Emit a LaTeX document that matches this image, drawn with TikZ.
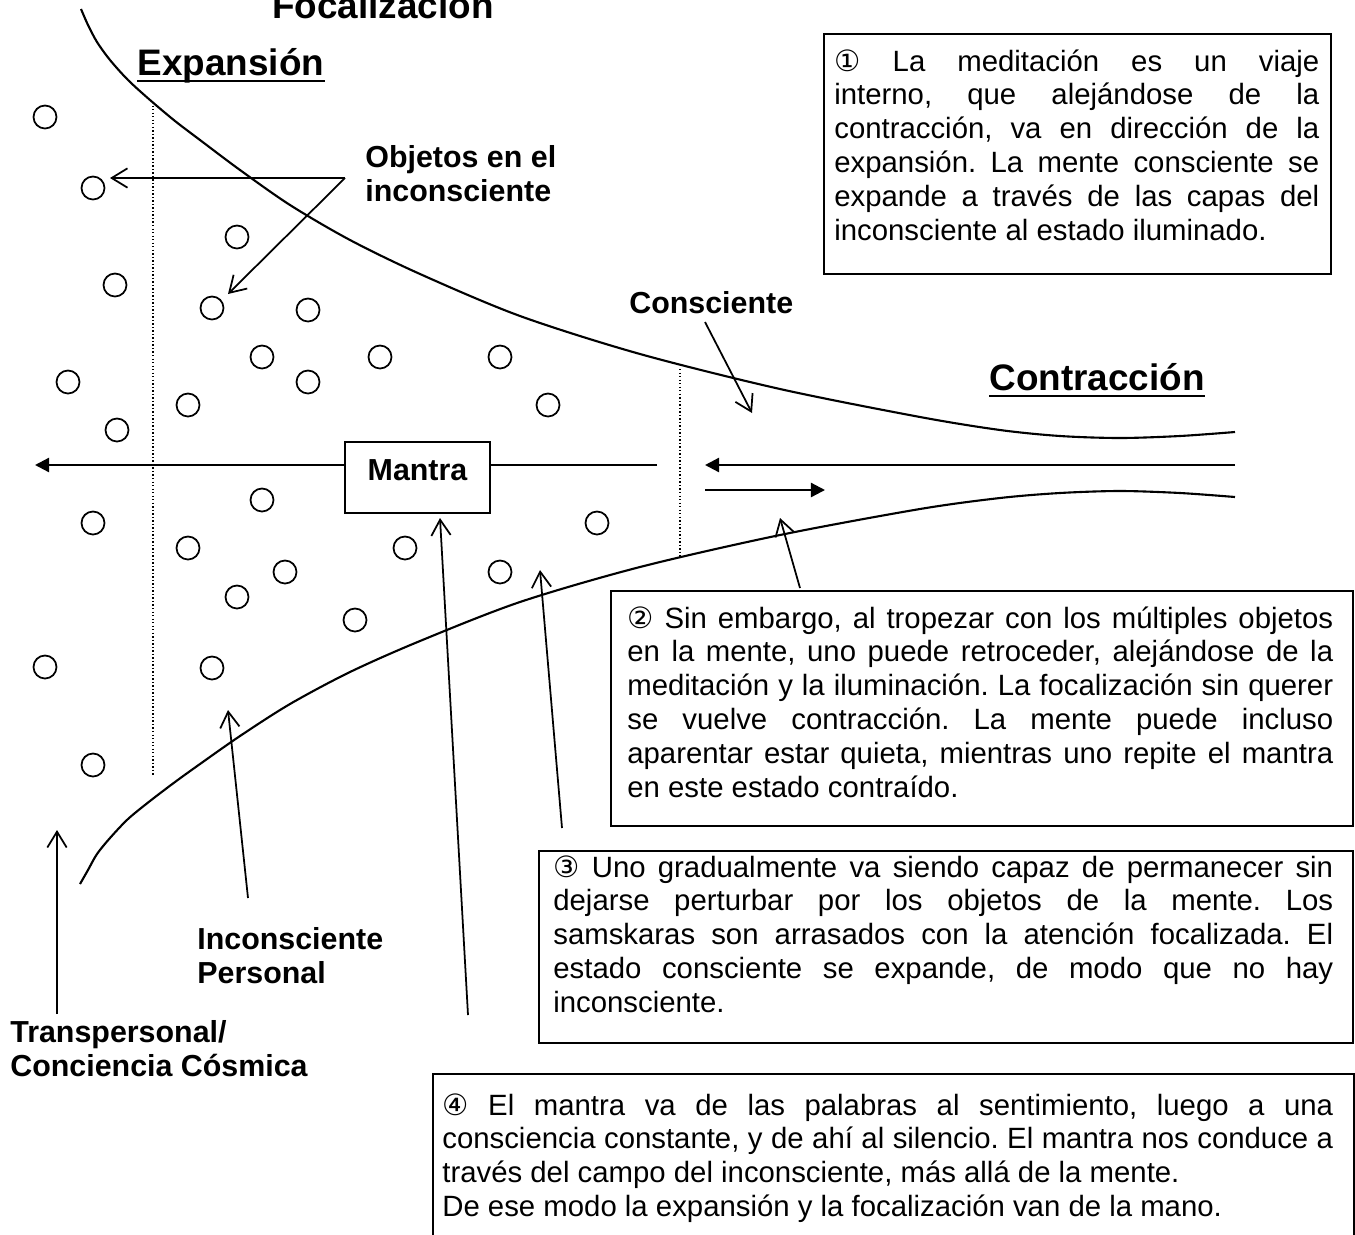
\documentclass[tikz,border=0pt]{standalone}
\usepackage{fontspec}
\setmainfont{Liberation Sans}
\newfontfamily\symf{DejaVu Sans}
\usetikzlibrary{arrows.meta}
\frenchspacing
\newcommand\bodyfont{\fontsize{16.7pt}{19.3pt}\selectfont\frenchspacing}
\newcommand\lblfont{\fontsize{17.3pt}{19.5pt}\selectfont\bfseries}
\newcommand\headfont{\fontsize{21pt}{25pt}\selectfont\bfseries}
\newcommand\twolines[2]{\vtop{\hbox{#1}\hbox{#2}}}
\tikzset{
  lbl/.style={font=\lblfont, inner sep=0pt, anchor=base west},
  head/.style={font=\headfont, inner sep=0pt, anchor=base},
  uline/.style={line width=1.6pt},
  boxframe/.style={draw, line width=1.2pt, inner sep=0pt, anchor=north west},
  boxtext/.style={font=\bodyfont, align=justify, inner sep=0pt, anchor=base west},
  bound/.style={line width=1.2pt},
  ptr/.style={line width=1pt, -{Straight Barb[length=9pt,width=11pt]}},
  bigarr/.style={line width=1.3pt, -{Triangle[length=8pt,width=8pt]}},
  thickline/.style={line width=1.3pt},
  obj/.style={circle, draw, line width=1pt, minimum size=0.46cm, inner sep=0pt},
  divider/.style={line width=0.8pt, dash pattern=on 0.8pt off 1.2pt},
  mantrabox/.style={draw, line width=1.2pt, minimum width=2.9cm, minimum height=1.42cm, inner sep=0pt, font=\lblfont}
}
\begin{document}
\begin{tikzpicture}[x=0.02cm, y=-0.02cm]
\useasboundingbox (0,0) rectangle (1355,1234);

% boundary curves
\draw[bound] plot[smooth, tension=0.5] coordinates {(81,9) (88,25) (97,42) (110,60) (128,80) (150,100) (175,121) (200,140) (240,170) (290,205) (350,240) (420,274) (520,316) (640,354) (780,389) (920,417) (1000,430) (1060,436) (1120,438) (1180,436) (1235,432)};
\draw[bound] plot[smooth, tension=0.5] coordinates {(80,884) (88,870) (97,854) (110,838) (128,819) (150,801) (175,782) (200,764) (240,736) (290,704) (350,672) (420,641) (520,602) (640,567) (780,535) (920,509) (1000,498) (1060,493) (1120,491) (1180,493) (1235,497)};

% dotted dividers
\draw[divider] (153,102) -- (153,775);
\draw[divider] (680,369) -- (680,557);

% objects in the unconscious
\foreach \p [count=\i] in {(45,117),(93,188),(237,237),(115,285),(212,308),(308,310),(262,357),(380,357),(500,357),(68,382),(308,382),(188,405),(548,405),(117,430),(262,500),(93,523),(188,548),(597,523),(405,548),(500,572),(285,572),(237,597),(355,620),(45,667),(212,668),(93,765)}
  \node[obj] (o\i) at \p {};

% headings
\node[head] (foc) at (383,18) {Focalización};
\node[head] (exp) at (231,75) {Expansión};
\draw[uline] ([yshift=-0.12cm]exp.base west) -- ([yshift=-0.12cm]exp.base east);
\node[head] (con) at (1097,390) {Contracción};
\draw[uline] ([yshift=-0.12cm]con.base west) -- ([yshift=-0.12cm]con.base east);

% mantra and the central arrows
\node[mantrabox] (mantra) at (417.5,477.5) {\raisebox{4pt}[\height][\depth]{Mantra}};
\coordinate (leftend) at (35,465);
\coordinate (rightend) at (657,465);
\draw[bigarr] (mantra.west |- leftend) -- (leftend);
\draw[thickline] (rightend) -- (mantra.east |- rightend);
\coordinate (r1s) at (1235,465);
\coordinate (r1e) at (705,465);
\draw[bigarr] (r1s) -- (r1e);
\coordinate (r2s) at (705,490);
\coordinate (r2e) at (825,490);
\draw[bigarr] (r2s) -- (r2e);

% labels
\node[lbl] (objlbl) at (365,167) {\twolines{Objetos en el}{inconsciente}};
\node[lbl] (conslbl) at (629,313) {Consciente};
\node[lbl] (inclbl) at (197,949) {\twolines{Inconsciente}{Personal}};
\node[lbl] (translbl) at (10,1042) {\twolines{Transpersonal/}{Conciencia Cósmica}};

% pointers
\coordinate (objs) at (345,178);
\coordinate (objt1) at (110,178);
\coordinate (objt2) at (228,294);
\draw[ptr] (objs) -- (objt1);
\draw[ptr] (objs) -- (objt2);
\coordinate (conss) at (705,322);
\coordinate (const) at (752,413);
\draw[ptr] (conss) -- (const);
\coordinate (incs) at (248,898);
\coordinate (inct) at (228,710);
\draw[ptr] (incs) -- (inct);
\coordinate (trs) at (57,1014);
\coordinate (trt) at (57,830);
\draw[ptr] (trs) -- (trt);

% text boxes
\node[boxframe, minimum width=10.14cm, minimum height=4.8cm] (b1) at (823,33) {};
\node[boxtext, text width=9.7cm] (b1t) at (834,71) {{\symf ①} La meditación es un viaje\linebreak interno, que alejándose de la\linebreak contracción, va en dirección de la\linebreak expansión. La mente consciente se\linebreak expande a través de las capas del\linebreak inconsciente al estado iluminado.};

\node[boxframe, minimum width=14.84cm, minimum height=4.7cm] (b2) at (610,590) {};
\node[boxtext, text width=14.12cm] (b2t) at (627,628) {{\symf ②} Sin embargo, al tropezar con los múltiples objetos\linebreak en la mente, uno puede retroceder, alejándose de la\linebreak meditación y la iluminación. La focalización sin querer\linebreak se vuelve contracción. La mente puede incluso\linebreak aparentar estar quieta, mientras uno repite el mantra\linebreak en este estado contraído.};

\node[boxframe, minimum width=16.28cm, minimum height=3.84cm] (b3) at (538,850) {};
\node[boxtext, text width=15.6cm] (b3t) at (553,877) {{\symf ③} Uno gradualmente va siendo capaz de permanecer sin\linebreak dejarse perturbar por los objetos de la mente. Los\linebreak samskaras son arrasados con la atención focalizada. El\linebreak estado consciente se expande, de modo que no hay\linebreak inconsciente.};

\node[boxframe, minimum width=18.42cm, minimum height=5cm] (b4) at (432,1073) {};
\node[boxtext, text width=17.82cm] (b4t) at (442,1115) {{\symf ④} El mantra va de las palabras al sentimiento, luego a una\linebreak consciencia constante, y de ahí al silencio. El mantra nos conduce a\linebreak través del campo del inconsciente, más allá de la mente.\newline De ese modo la expansión y la focalización van de la mano.};

\coordinate (p2s) at (800,588);
\coordinate (p2t) at (780,518);
\draw[ptr] (p2s) -- (p2t);
\coordinate (p3s) at (562,828);
\coordinate (p3t) at (540,570);
\draw[ptr] (p3s) -- (p3t);
\coordinate (p4s) at (468,1015);
\coordinate (p4t) at (440,518);
\draw[ptr] (p4s) -- (p4t);
\end{tikzpicture}
\end{document}
